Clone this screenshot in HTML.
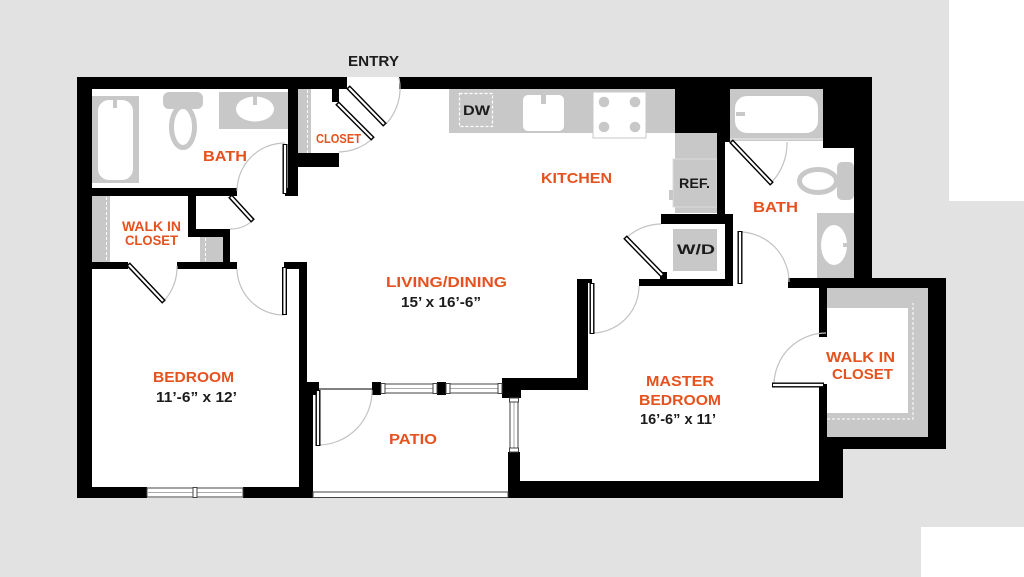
<!DOCTYPE html>
<html><head><meta charset="utf-8"><style>
html,body{margin:0;padding:0;background:#e2e2e2;}
svg{display:block;}
text{font-family:"Liberation Sans",sans-serif;font-weight:bold;}
.o{fill:#e6521f;}
.k{fill:#1c1c1c;}
.arc{fill:none;stroke:#c2c2c2;stroke-width:1.2;}
.lf{stroke:#000;stroke-width:5;}
.li{stroke:#fff;stroke-width:2.2;}
.g{fill:#c8c8c8;}
.win{fill:#fff;stroke:#444;stroke-width:1;}
</style></head><body>
<svg width="1024" height="577" viewBox="0 0 1024 577" xmlns="http://www.w3.org/2000/svg">
<rect width="1024" height="577" fill="#e2e2e2"/>
<rect x="949" y="0" width="75" height="201" fill="#fff"/>
<rect x="921" y="527" width="103" height="50" fill="#fff"/>
<polygon points="77,77 872,77 872,278 946,278 946,449 843,449 843,498 77,498" fill="#fff"/>

<rect x="92" y="96" width="47" height="87" class="g"/>
<rect x="98" y="100" width="35" height="80" rx="11" fill="#fff"/>
<rect x="113" y="99" width="4" height="9" class="g"/>
<rect x="163" y="92" width="40" height="17" rx="6" class="g"/>
<ellipse cx="183" cy="127" rx="11.5" ry="20.5" fill="#fff" stroke="#c8c8c8" stroke-width="5"/>
<rect x="219" y="92" width="71" height="37" class="g"/>
<ellipse cx="255" cy="109" rx="19" ry="12.5" fill="#fff"/>
<rect x="253" y="95" width="4" height="10" class="g"/>

<rect x="298" y="89" width="13" height="64" class="g"/>
<line x1="307.5" y1="90" x2="307.5" y2="153" stroke="#fff" stroke-width="1" stroke-dasharray="3,2"/>

<rect x="92" y="196" width="18" height="66" class="g"/>
<line x1="106.5" y1="197" x2="106.5" y2="262" stroke="#fff" stroke-width="1" stroke-dasharray="3,2"/>
<rect x="200" y="237" width="23" height="25" class="g"/>
<line x1="205.5" y1="238" x2="205.5" y2="262" stroke="#fff" stroke-width="1" stroke-dasharray="3,2"/>

<rect x="449" y="89" width="226" height="44" class="g"/>
<rect x="459.5" y="93.5" width="33" height="33" fill="none" stroke="#fff" stroke-width="1.2" stroke-dasharray="3,2"/>
<rect x="523" y="95" width="41" height="36" rx="5" fill="#fff"/>
<rect x="541" y="90" width="5" height="14" class="g"/>
<rect x="593" y="92" width="53" height="46" fill="#fff" stroke="#c8c8c8" stroke-width="1"/>
<circle cx="604" cy="102" r="5.3" class="g"/>
<circle cx="635" cy="102" r="5.3" class="g"/>
<circle cx="604" cy="127" r="5.3" class="g"/>
<circle cx="635" cy="127" r="5.3" class="g"/>
<rect x="675" y="133" width="42" height="80" class="g"/>
<rect x="673" y="159" width="44" height="48" class="g" stroke="#dcdcdc" stroke-width="1"/>
<rect x="669" y="190" width="4" height="10" class="g"/>
<rect x="673" y="229" width="44" height="42" class="g"/>

<rect x="730" y="88" width="93" height="53" class="g"/>
<rect x="735" y="96" width="83" height="37" rx="12" fill="#fff"/>
<rect x="736" y="112" width="9" height="4" class="g"/>
<line x1="730" y1="139" x2="823" y2="139" stroke="#eee" stroke-width="1"/>
<rect x="837" y="162" width="17" height="38" rx="5" class="g"/>
<ellipse cx="818" cy="181" rx="18.5" ry="11.5" fill="#fff" stroke="#c8c8c8" stroke-width="5"/>
<rect x="817" y="213" width="37" height="65" class="g"/>
<ellipse cx="834" cy="245" rx="13" ry="20" fill="#fff"/>
<rect x="843" y="243" width="7" height="4" class="g"/>

<rect x="827" y="287" width="101" height="150" class="g"/>
<rect x="827" y="308" width="81" height="105" fill="#fff"/>
<polyline points="827,419 913,419 913,303" fill="none" stroke="#fff" stroke-width="1" stroke-dasharray="3,2"/>

<g fill="#000">
<rect x="77" y="77" width="270" height="12"/>
<rect x="399" y="77" width="473" height="12"/>
<rect x="77" y="77" width="15" height="421"/>
<rect x="77" y="188" width="160" height="8"/>
<rect x="285" y="188" width="13" height="8"/>
<rect x="288" y="89" width="10" height="107"/>
<rect x="298" y="153" width="41" height="14"/>
<rect x="332" y="89" width="7" height="13"/>
<rect x="188" y="196" width="8" height="41"/>
<rect x="188" y="229" width="42" height="8"/>
<rect x="223" y="229" width="7" height="33"/>
<rect x="92" y="262" width="36" height="7"/>
<rect x="177" y="262" width="60" height="7"/>
<rect x="284" y="262" width="23" height="7"/>
<rect x="299" y="262" width="8" height="120"/>
<rect x="299" y="382" width="20" height="13"/>
<rect x="299" y="382" width="14" height="116"/>
<rect x="77" y="487" width="70" height="11"/>
<rect x="243" y="487" width="70" height="11"/>
<rect x="372" y="382" width="9" height="13"/>
<rect x="437" y="382" width="9" height="13"/>
<rect x="502" y="378" width="19" height="20"/>
<rect x="502" y="378" width="86" height="12"/>
<rect x="577" y="279" width="11" height="111"/>
<rect x="577" y="279" width="15" height="4"/>
<rect x="508" y="452" width="12" height="46"/>
<rect x="508" y="481" width="335" height="17"/>
<rect x="675" y="77" width="55" height="56"/>
<rect x="717" y="133" width="8" height="81"/>
<rect x="725" y="133" width="5" height="9"/>
<rect x="661" y="214" width="72" height="10"/>
<rect x="725" y="214" width="8" height="72"/>
<rect x="639" y="279" width="94" height="7"/>
<rect x="660" y="272" width="7" height="7"/>
<rect x="823" y="77" width="49" height="71"/>
<rect x="854" y="77" width="18" height="211"/>
<rect x="788" y="278" width="158" height="10"/>
<rect x="928" y="278" width="18" height="171"/>
<rect x="819" y="437" width="127" height="12"/>
<rect x="819" y="287" width="8" height="50"/>
<rect x="819" y="384" width="8" height="114"/>
<rect x="819" y="437" width="24" height="61"/>
</g>

<rect x="147" y="488" width="96" height="9" class="win"/>
<line x1="147" y1="492.5" x2="243" y2="492.5" stroke="#aaa" stroke-width="1"/>
<rect x="193" y="487.5" width="4" height="10" class="win"/>
<rect x="381" y="384" width="56" height="9" class="win"/>
<line x1="381" y1="388.5" x2="437" y2="388.5" stroke="#aaa" stroke-width="1"/>
<rect x="446" y="384" width="56" height="9" class="win"/>
<line x1="446" y1="388.5" x2="502" y2="388.5" stroke="#aaa" stroke-width="1"/>
<rect x="381" y="383.5" width="4" height="10" class="win"/>
<rect x="433" y="383.5" width="4" height="10" class="win"/>
<rect x="446" y="383.5" width="4" height="10" class="win"/>
<rect x="498" y="383.5" width="4" height="10" class="win"/>
<rect x="510" y="398" width="8" height="54" class="win"/>
<line x1="514" y1="398" x2="514" y2="452" stroke="#aaa" stroke-width="1"/>
<rect x="509.5" y="398" width="9" height="4" class="win"/>
<rect x="509.5" y="448" width="9" height="4" class="win"/>
<line x1="319" y1="389" x2="372" y2="389" stroke="#000" stroke-width="1"/>
<rect x="313" y="492" width="195" height="5.5" class="win" stroke="#555"/>

<path class="arc" d="M399,78 A52,52 0 0 1 386,124"/>
<path class="arc" d="M373,138 A50,50 0 0 1 339,152"/>
<path class="arc" d="M285,143 A48,48 0 0 0 237,191"/>
<path class="arc" d="M253,220 A32,32 0 0 1 230,229"/>
<path class="arc" d="M163,302 A50,50 0 0 0 177,266"/>
<path class="arc" d="M237,269 A47,47 0 0 0 284,315"/>
<path class="arc" d="M318,445 A54,54 0 0 0 372,390"/>
<path class="arc" d="M626,238 A52,52 0 0 1 661,224"/>
<path class="arc" d="M592,333 A47,47 0 0 0 639,286"/>
<path class="arc" d="M740,232 A50,50 0 0 1 789,282"/>
<path class="arc" d="M771,183 A57,57 0 0 0 787,142"/>
<path class="arc" d="M774,385 A52,52 0 0 1 826,333"/>

<line class="lf" x1="348" y1="87" x2="385" y2="125"/><line class="li" x1="349" y1="88" x2="384" y2="124"/>
<line class="lf" x1="337" y1="103" x2="373" y2="139"/><line class="li" x1="338" y1="104" x2="372" y2="138"/>
<line class="lf" x1="285" y1="144" x2="285" y2="194"/><line class="li" x1="285" y1="145" x2="285" y2="193"/>
<line class="lf" x1="230" y1="196" x2="253" y2="221"/><line class="li" x1="231" y1="197" x2="252" y2="220"/>
<line class="lf" x1="128" y1="264" x2="164" y2="302"/><line class="li" x1="129" y1="265" x2="163" y2="301"/>
<line class="lf" x1="284.5" y1="267" x2="284.5" y2="315"/><line class="li" x1="284.5" y1="268" x2="284.5" y2="314"/>
<line class="lf" x1="318" y1="390" x2="318" y2="446"/><line class="li" x1="318" y1="391" x2="318" y2="445"/>
<line class="lf" x1="625" y1="237" x2="663" y2="276"/><line class="li" x1="626" y1="238" x2="662" y2="275"/>
<line class="lf" x1="592" y1="283" x2="592" y2="334"/><line class="li" x1="592" y1="284" x2="592" y2="333"/>
<line class="lf" x1="740" y1="231" x2="740" y2="284"/><line class="li" x1="740" y1="232" x2="740" y2="283"/>
<line class="lf" x1="731" y1="141" x2="772" y2="184"/><line class="li" x1="732" y1="142" x2="771" y2="183"/>
<line class="lf" x1="772" y1="385" x2="824" y2="385"/><line class="li" x1="773" y1="385" x2="823" y2="385"/>

<text x="348" y="66" font-size="15" class="k" textLength="51" lengthAdjust="spacingAndGlyphs">ENTRY</text>
<text x="203" y="161" font-size="15" class="o" textLength="44" lengthAdjust="spacingAndGlyphs">BATH</text>
<text x="316" y="143" font-size="13" class="o" textLength="45" lengthAdjust="spacingAndGlyphs">CLOSET</text>
<text x="122" y="231" font-size="14" class="o" textLength="59" lengthAdjust="spacingAndGlyphs">WALK IN</text>
<text x="125" y="245" font-size="14" class="o" textLength="53" lengthAdjust="spacingAndGlyphs">CLOSET</text>
<text x="541" y="183" font-size="15" class="o" textLength="71" lengthAdjust="spacingAndGlyphs">KITCHEN</text>
<text x="463" y="115" font-size="14" class="k" textLength="27" lengthAdjust="spacingAndGlyphs">DW</text>
<text x="679" y="188" font-size="13.5" class="k" textLength="31" lengthAdjust="spacingAndGlyphs">REF.</text>
<text x="677" y="254" font-size="14" class="k" textLength="38" lengthAdjust="spacingAndGlyphs">W/D</text>
<text x="753" y="212" font-size="15" class="o" textLength="45" lengthAdjust="spacingAndGlyphs">BATH</text>
<text x="386" y="287" font-size="15" class="o" textLength="121" lengthAdjust="spacingAndGlyphs">LIVING/DINING</text>
<text x="401" y="307" font-size="15" class="k" textLength="80" lengthAdjust="spacingAndGlyphs">15’ x  16’-6”</text>
<text x="153" y="382" font-size="15" class="o" textLength="81" lengthAdjust="spacingAndGlyphs">BEDROOM</text>
<text x="156" y="402" font-size="15" class="k" textLength="81" lengthAdjust="spacingAndGlyphs">11’-6” x 12’</text>
<text x="389" y="444" font-size="15" class="o" textLength="48" lengthAdjust="spacingAndGlyphs">PATIO</text>
<text x="646" y="386" font-size="15" class="o" textLength="68" lengthAdjust="spacingAndGlyphs">MASTER</text>
<text x="639" y="405" font-size="15" class="o" textLength="82" lengthAdjust="spacingAndGlyphs">BEDROOM</text>
<text x="640" y="424" font-size="15" class="k" textLength="76" lengthAdjust="spacingAndGlyphs">16’-6” x 11’</text>
<text x="826" y="362" font-size="15" class="o" textLength="69" lengthAdjust="spacingAndGlyphs">WALK IN</text>
<text x="832" y="379" font-size="15" class="o" textLength="61" lengthAdjust="spacingAndGlyphs">CLOSET</text>
</svg>
</body></html>
